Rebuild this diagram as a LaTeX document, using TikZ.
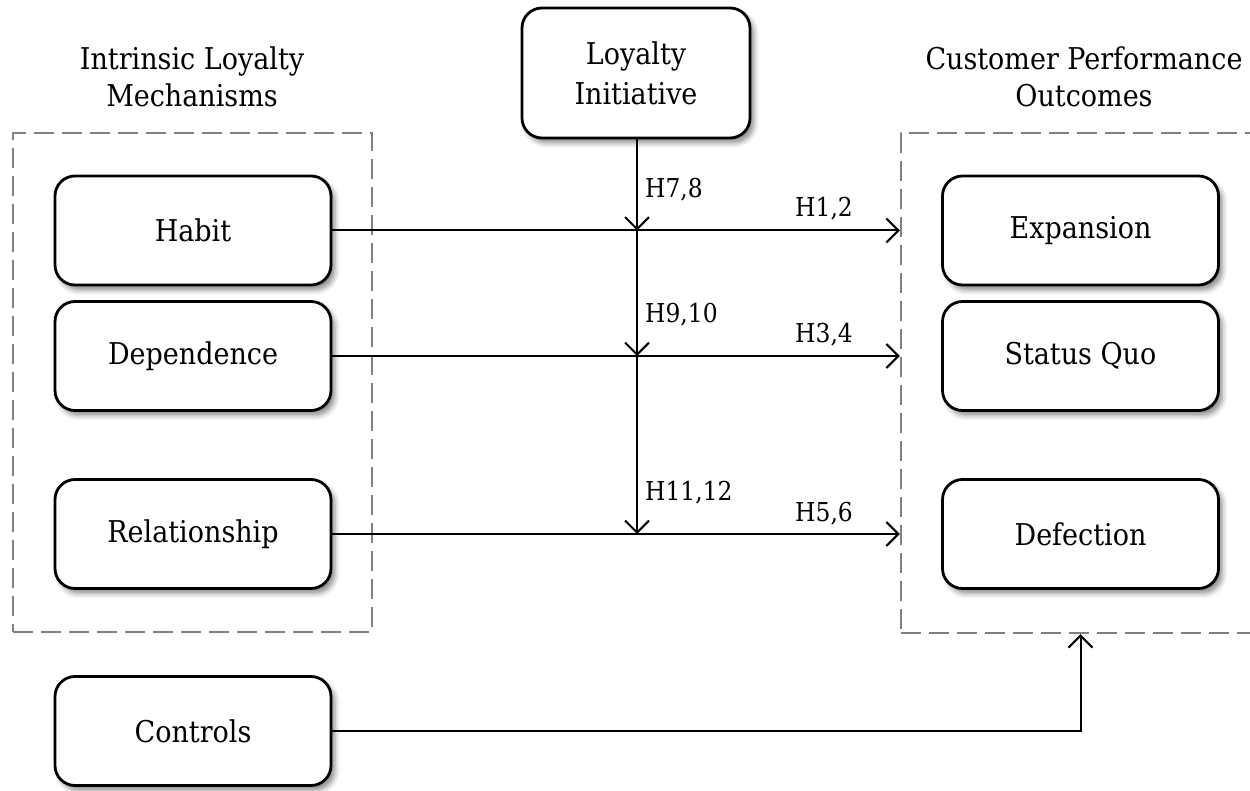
\documentclass[tikz,border=0pt]{standalone}
\usepackage{fontspec}
\setmainfont{DejaVu Serif Condensed}
\usetikzlibrary{arrows.meta,shadows.blur}

\begin{document}
\begin{tikzpicture}[x=1pt,y=-1pt,
  box/.style={draw, line width=2.8pt, rounded corners=20pt, fill=white,
    blur shadow={shadow xshift=4pt, shadow yshift=-5pt, shadow blur radius=5pt, shadow opacity=45},
    minimum width=276pt, minimum height=109pt, align=center, inner sep=0pt,
    font=\fontsize{30}{40}\selectfont},
  group/.style={draw=black!50, dash pattern=on 20pt off 8pt, line width=2.4pt,
    inner sep=0pt},
  title/.style={align=center, font=\fontsize{30}{37}\selectfont},
  link/.style={line width=2pt, -{Straight Barb[length=12pt,width=24pt]}},
  hyp/.style={inner sep=0pt, font=\fontsize{26}{30}\selectfont}]
\clip (0,0) rectangle (1250,791);

% dashed groups
\node[group, minimum width=359pt, minimum height=499pt] (mech) at (192.5,382.5) {};
\node[group, minimum width=380pt, minimum height=500pt] (outcomes) at (1091,383) {};

% group titles
\node[title] (mechtitle) at (192,77) {Intrinsic Loyalty\\Mechanisms};
\node[title] (outtitle) at (1084,77) {Customer Performance\\Outcomes};

% construct boxes
\node[box, minimum width=228pt, minimum height=130pt] (li) at (636,73) {Loyalty\\Initiative};
\node[box] (habit) at (193,230.5) {Habit};
\node[box] (dep)   at (193,356) {Dependence};
\node[box] (rel)   at (193,534) {Relationship};
\node[box] (ctrl)  at (193,731) {Controls};
\node[box] (exp)   at (1080.5,230.5) {Expansion};
\node[box] (sq)    at (1080.5,356) {Status Quo};
\node[box] (def)   at (1080.5,534) {Defection};

% direct effects
\draw[link] (habit.east) -- (habit.east -| outcomes.west);
\draw[link] (dep.east) -- (dep.east -| outcomes.west);
\draw[link] (rel.east) -- (rel.east -| outcomes.west);

% moderation by the loyalty initiative
\coordinate (drop) at ([xshift=1pt]li.south);
\coordinate (m1) at (drop |- habit.east);
\coordinate (m2) at (drop |- dep.east);
\coordinate (m3) at (drop |- rel.east);
\draw[link] (drop) -- (m1);
\draw[link] (m1) -- (m2);
\draw[link] (m2) -- (m3);

% hypothesis labels
\node[hyp, anchor=base west] (h78) at ([xshift=8pt,yshift=33pt]m1) {H7,8};
\node[hyp, anchor=base east] (h12) at (853,217) {H1,2};
\node[hyp, anchor=base west] (h910) at ([xshift=8pt,yshift=33pt]m2) {H9,10};
\node[hyp, anchor=base east] (h34) at (853,343) {H3,4};
\node[hyp, anchor=base west] (h1112) at ([xshift=8pt,yshift=34pt]m3) {H11,12};
\node[hyp, anchor=base east] (h56) at (853,521) {H5,6};

% controls
\draw[link] (ctrl.east) -| (outcomes.south -| exp.center);
\end{tikzpicture}
\end{document}
